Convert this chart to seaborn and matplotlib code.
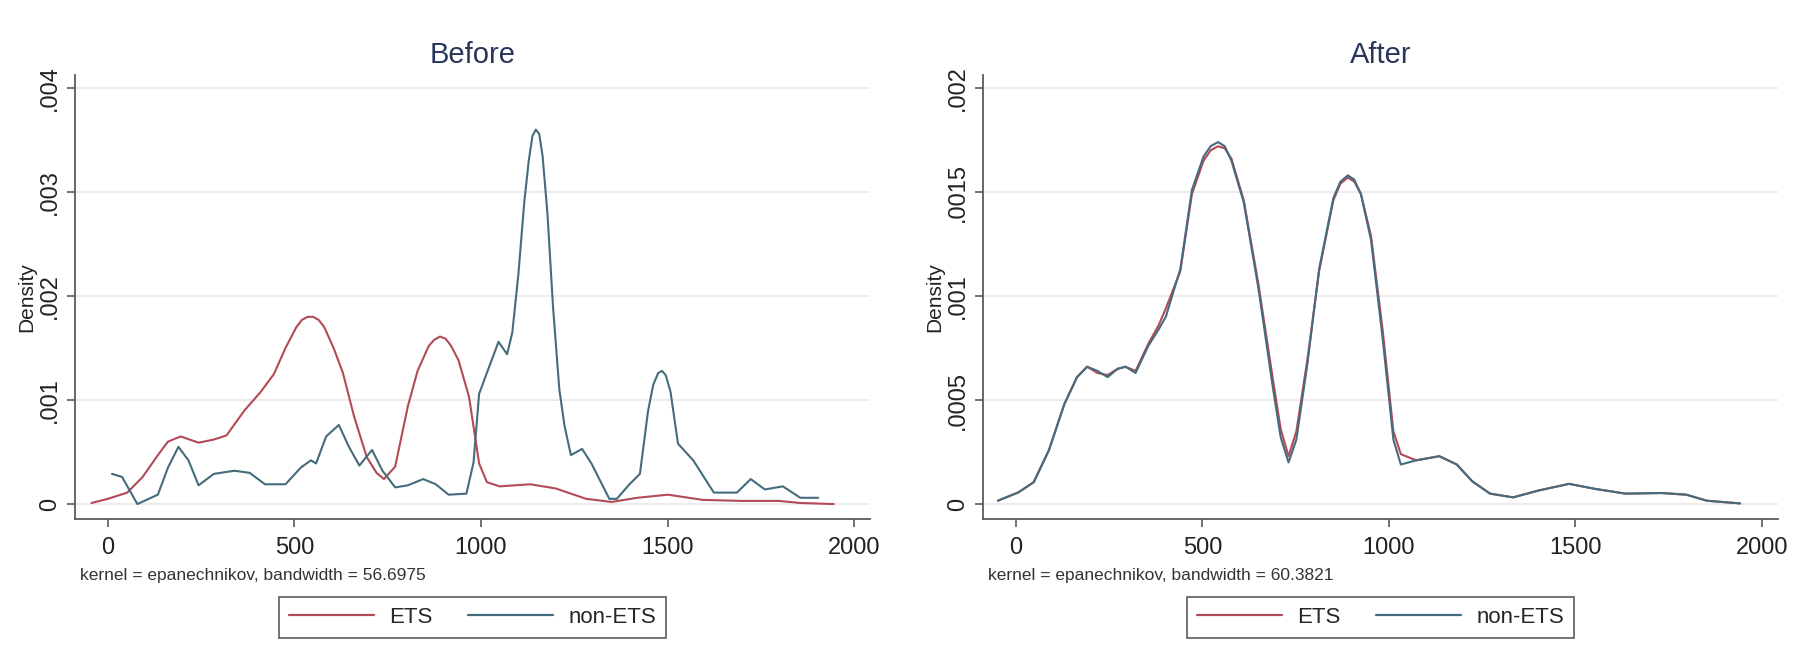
import numpy as np
import pandas as pd
import matplotlib.pyplot as plt
import seaborn as sns

# values (kernel density curves)
before_ets_x = [-44, 0, 52, 93, 134, 161, 195, 243, 284, 318, 366, 410, 445, 476, 505, 520, 535,
                550, 565, 580, 605, 630, 660, 694, 720, 740, 770, 804, 830, 860, 875, 890, 905,
                920, 940, 968, 995, 1016, 1050, 1132, 1200, 1282, 1350, 1419, 1501, 1594, 1700,
                1799, 1856, 1945]
before_ets_y = [0.00001, 0.00005, 0.00011, 0.00026, 0.00047, 0.00060, 0.00065, 0.00059, 0.00062,
                0.00066, 0.00090, 0.00108, 0.00125, 0.00150, 0.00170, 0.00177, 0.00180, 0.00180,
                0.00177, 0.00170, 0.00150, 0.00126, 0.00084, 0.00045, 0.00030, 0.00024, 0.00036,
                0.00094, 0.00128, 0.00152, 0.00158, 0.00161, 0.00159, 0.00152, 0.00138, 0.00103,
                0.00039, 0.00021, 0.00017, 0.00019, 0.00015, 0.00005, 0.00002, 0.00006, 0.00009,
                0.00004, 0.00003, 0.00003, 0.00001, 0.00000]

before_non_x = [11, 38, 79, 134, 161, 189, 216, 243, 284, 339, 380, 421, 476, 517, 544, 558, 585,
                619, 646, 674, 708, 736, 770, 804, 845, 879, 913, 961, 980, 995, 1022, 1047, 1070,
                1084, 1100, 1116, 1128, 1138, 1147, 1156, 1165, 1178, 1193, 1210, 1224, 1241, 1271,
                1296, 1344, 1364, 1398, 1426, 1448, 1462, 1475, 1485, 1495, 1508, 1528, 1569, 1624,
                1686, 1723, 1761, 1809, 1856, 1904]
before_non_y = [0.00029, 0.00026, 0.00000, 0.00009, 0.00035, 0.00055, 0.00042, 0.00018, 0.00029,
                0.00032, 0.00030, 0.00019, 0.00019, 0.00035, 0.00042, 0.00039, 0.00065, 0.00076,
                0.00055, 0.00037, 0.00052, 0.00032, 0.00016, 0.00018, 0.00024, 0.00019, 0.00009,
                0.00010, 0.00040, 0.00106, 0.00132, 0.00156, 0.00144, 0.00165, 0.00220, 0.00290,
                0.00330, 0.00354, 0.00360, 0.00356, 0.00335, 0.00280, 0.00190, 0.00110, 0.00075,
                0.00047, 0.00053, 0.00039, 0.00005, 0.00005, 0.00019, 0.00029, 0.00090, 0.00115,
                0.00126, 0.00128, 0.00124, 0.00108, 0.00058, 0.00042, 0.00011, 0.00011, 0.00024,
                0.00014, 0.00017, 0.00006, 0.00006]

after_x = [-48, 7, 48, 89, 130, 164, 191, 219, 246, 273, 294, 321, 355, 383, 402, 441, 472, 503,
           522, 542, 560, 578, 611, 650, 689, 710, 731, 752, 782, 813, 851, 870, 890, 907, 925,
           952, 983, 1012, 1032, 1073, 1135, 1182, 1223, 1271, 1333, 1401, 1483, 1552, 1634, 1729,
           1797, 1852, 1941]
after_non_y = [0.000016, 0.000056, 0.000105, 0.00026, 0.00048, 0.00061, 0.00066, 0.00064, 0.00061,
               0.00065, 0.00066, 0.00063, 0.00076, 0.00084, 0.00090, 0.00113, 0.00151, 0.00167,
               0.00172, 0.00174, 0.00172, 0.00165, 0.00145, 0.00104, 0.00056, 0.00032, 0.00020,
               0.00031, 0.00068, 0.00113, 0.00147, 0.00155, 0.00158, 0.00156, 0.00149, 0.00127,
               0.00080, 0.00031, 0.00019, 0.00021, 0.00023, 0.00019, 0.00011, 0.00005, 0.000032,
               0.000065, 0.000097, 0.000073, 0.00005, 0.000053, 0.000045, 0.000016, 0.000003]
after_ets_y = [0.000016, 0.000056, 0.000105, 0.00026, 0.00048, 0.00061, 0.00066, 0.00063, 0.00062,
               0.00065, 0.00066, 0.00064, 0.00077, 0.00086, 0.00094, 0.00112, 0.00149, 0.00165,
               0.00170, 0.00172, 0.00171, 0.00166, 0.00146, 0.00106, 0.00060, 0.00036, 0.00023,
               0.00035, 0.00070, 0.00112, 0.00146, 0.00154, 0.00157, 0.00155, 0.00149, 0.00129,
               0.00084, 0.00035, 0.00024, 0.00021, 0.00023, 0.00019, 0.00011, 0.00005, 0.000032,
               0.000065, 0.000097, 0.000073, 0.00005, 0.000053, 0.000045, 0.000016, 0.000003]

groups = ["ETS", "non-ETS"]
colors = {"ETS": "#b24a57", "non-ETS": "#456c7c"}
x_ticks = [0, 500, 1000, 1500, 2000]
before_yticks = [0, 0.001, 0.002, 0.003, 0.004]
before_ylabels = ["0", ".001", ".002", ".003", ".004"]
after_yticks = [0, 0.0005, 0.001, 0.0015, 0.002]
after_ylabels = ["0", ".0005", ".001", ".0015", ".002"]
notes = ["kernel = epanechnikov, bandwidth = 56.6975", "kernel = epanechnikov, bandwidth = 60.3821"]


def make_df(ets_x, ets_y, non_x, non_y):
    a = pd.DataFrame({"x": ets_x, "density": ets_y, "group": "ETS"})
    b = pd.DataFrame({"x": non_x, "density": non_y, "group": "non-ETS"})
    return pd.concat([a, b], ignore_index=True)


def draw_panel(ax, df, title, yticks, ylabels, ylim, note):
    sns.lineplot(data=df, x="x", y="density", hue="group", hue_order=groups,
                 palette=colors, estimator=None, linewidth=1.5, ax=ax)
    ax.set_xlim(-88, 2043)
    ax.set_ylim(*ylim)
    ax.set_xticks(x_ticks)
    ax.set_xticklabels([str(t) for t in x_ticks])
    ax.set_yticks(yticks)
    ax.set_yticklabels(ylabels, rotation=90, va="center")
    ax.grid(axis="y", color="#ececec", linewidth=1.5)
    ax.grid(axis="x", visible=False)
    for side in ["top", "right"]:
        ax.spines[side].set_visible(False)
    for side in ["left", "bottom"]:
        ax.spines[side].set_color("#5a5a5a")
        ax.spines[side].set_linewidth(1.3)
    ax.tick_params(axis="both", direction="out", length=6, width=1.2, color="#5a5a5a",
                   labelsize=17, labelcolor="#222222", left=True, bottom=True)
    ax.tick_params(axis="x", pad=7)
    ax.tick_params(axis="y", pad=4)
    ax.set_xlabel("")
    ax.set_ylabel("Density", fontsize=15, color="#222222", labelpad=2)
    ax.set_title(title, fontsize=21, color="#27365a", pad=9)
    ax.text(0.006, -0.128, note, transform=ax.transAxes, fontsize=12.5, color="#333333",
            ha="left", va="center")
    sns.move_legend(ax, "center", bbox_to_anchor=(0.5, -0.221), ncol=2, title=None,
                    frameon=True, fancybox=False, fontsize=16, handlelength=3.8,
                    handletextpad=0.7, columnspacing=1.6, borderpad=0.45)
    leg = ax.get_legend()
    leg.get_frame().set_edgecolor("#333333")
    leg.get_frame().set_linewidth(1.2)
    for line in leg.get_lines():
        line.set_linewidth(1.6)


sns.set_theme(style="white")
plt.rcParams["font.family"] = ["Liberation Sans", "DejaVu Sans"]

fig = plt.figure(figsize=(18, 6.62), dpi=100)
ax1 = fig.add_axes([0.0417, 0.216, 0.4417, 0.6707])
ax2 = fig.add_axes([0.5461, 0.216, 0.4417, 0.6707])

before_df = make_df(before_ets_x, before_ets_y, before_non_x, before_non_y)
after_df = make_df(after_x, after_ets_y, after_x, after_non_y)

draw_panel(ax1, before_df, "Before", before_yticks, before_ylabels, (-0.000144, 0.004125), notes[0])
draw_panel(ax2, after_df, "After", after_yticks, after_ylabels, (-0.000072, 0.0020625), notes[1])

fig.savefig("out.png", dpi=100, facecolor="white")
